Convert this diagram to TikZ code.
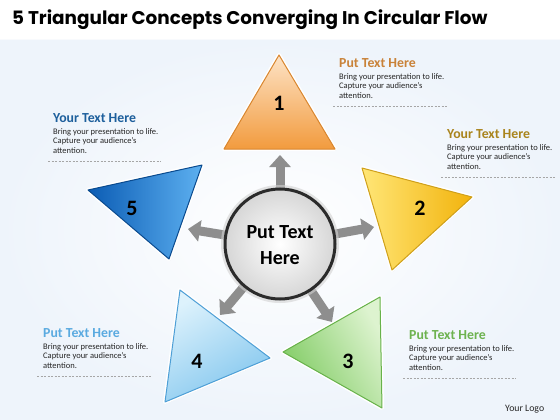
\documentclass[tikz,border=0pt]{standalone}
\usepackage{fontspec}
\setmainfont{Carlito}
\newfontfamily\titlefont{Poppins}
\usetikzlibrary{arrows.meta,shadows}
\definecolor{bgblue}{HTML}{EEF4FB}
\definecolor{orL}{HTML}{FDE3C6}
\definecolor{orD}{HTML}{F29B3E}
\definecolor{orB}{HTML}{D9862E}
\definecolor{yeL}{HTML}{FFE677}
\definecolor{yeD}{HTML}{F2B30C}
\definecolor{yeB}{HTML}{CFA01A}
\definecolor{grL}{HTML}{DDF3CF}
\definecolor{grD}{HTML}{7FCB62}
\definecolor{grB}{HTML}{67B24A}
\definecolor{lbL}{HTML}{DDF2FC}
\definecolor{lbD}{HTML}{82C6EE}
\definecolor{lbB}{HTML}{4E9FD6}
\definecolor{blL}{HTML}{5DB0F0}
\definecolor{blD}{HTML}{0B5CB4}
\definecolor{blB}{HTML}{0A4A8E}
\definecolor{hOr}{HTML}{C98238}
\definecolor{hYe}{HTML}{A9841C}
\definecolor{hBl}{HTML}{1D5F9C}
\definecolor{hLb}{HTML}{5AAAE0}
\definecolor{hGr}{HTML}{6DB24F}
\definecolor{arrg}{HTML}{8E8E8E}
\definecolor{ring}{HTML}{2B2B2B}
\begin{document}
\begin{tikzpicture}[x=1pt,y=-1pt,
  triout/.style={fill=white,draw=white,line width=4pt,line join=round,
    drop shadow={shadow xshift=1pt,shadow yshift=-1.5pt,opacity=0.35}},
  trifill/.style={line width=1pt,line join=round},
  num/.style={font=\bfseries\fontsize{22}{24}\selectfont,inner sep=0pt},
  head/.style={font=\bfseries\fontsize{13.8}{15}\selectfont,anchor=base west,inner sep=0pt},
  body/.style={font=\fontsize{8.5}{9.8}\selectfont,align=left,anchor=north west,inner sep=0pt,text=black!85},
  sep/.style={draw=gray!70,line width=0.6pt,dash pattern=on 2pt off 1.5pt},
  garrow/.style={draw=arrg,line width=9pt,-{Triangle[length=12pt,width=21pt]}}
]
\useasboundingbox (0,0) rectangle (560,420);
% background
\fill[white] (0,0) rectangle (560,420);
\shade[inner color=white,outer color=bgblue] (0,40) rectangle (560,420);
\fill[white,opacity=0.6] (0,0) rectangle (560,40);

% title
\node[anchor=base west,inner sep=0pt,font=\titlefont\bfseries\fontsize{18.4}{21}\selectfont] (title) at (12,25) {5 Triangular Concepts Converging In Circular Flow};

% centre and arrow tips
\coordinate (cc) at (280,244);
\coordinate (t1) at (280,155);
\coordinate (t2) at (374,227);
\coordinate (t3) at (332,322);
\coordinate (t4) at (220,315);
\coordinate (t5) at (188,229);
\foreach \t in {t1,t2,t3,t4,t5} \draw[garrow] (cc) -- (\t);

% centre circle
\fill[gray!35,opacity=0.6] (cc) circle (59);
\shade[inner color=white,outer color=gray!32,draw=ring,line width=3pt] (cc) circle (55);
\node[font=\bfseries\fontsize{20}{26}\selectfont,align=center,inner sep=0pt] (c) at (280,245) {Put Text\\Here};

% triangle 1 (orange)
\path[triout] (279,55) -- (335,149) -- (224,149) -- cycle;
\shade[trifill,top color=orL,bottom color=orD,draw=orB] (279,55) -- (335,149) -- (224,149) -- cycle;
\node[num] (n1) at (279,103) {1};

% triangle 2 (yellow)
\path[triout] (362,168) -- (472,197) -- (392,270) -- cycle;
\shade[trifill,top color=yeL,bottom color=yeD,shading angle=90,draw=yeB] (362,168) -- (472,197) -- (392,270) -- cycle;
\node[num] (n2) at (420,208) {2};

% triangle 3 (green)
\path[triout] (380,297) -- (382,408) -- (283,352) -- cycle;
\shade[trifill,top color=grL,bottom color=grD,shading angle=-60,draw=grB] (380,297) -- (382,408) -- (283,352) -- cycle;
\node[num] (n3) at (348,361) {3};

% triangle 4 (light blue)
\path[triout] (180,290) -- (270,358) -- (165,402) -- cycle;
\shade[trifill,top color=lbL,bottom color=lbD,shading angle=30,draw=lbB] (180,290) -- (270,358) -- (165,402) -- cycle;
\node[num] (n4) at (197,361) {4};

% triangle 5 (blue)
\path[triout] (88,190) -- (202,165) -- (169,259) -- cycle;
\shade[trifill,top color=blL,bottom color=blD,shading angle=-90,draw=blB] (88,190) -- (202,165) -- (169,259) -- cycle;
\node[num] (n5) at (132,208) {5};

% text block 1
\node[head,text=hOr] (h1) at (339,67) {Put Text Here};
\node[body] (b1) at (339,73) {Bring your presentation to life.\\Capture your audience’s\\attention.};
\draw[sep] (333,106) -- (447,106);

% text block 2
\node[head,text=hYe] (h2) at (447,138) {Your Text Here};
\node[body] (b2) at (447,144) {Bring your presentation to life.\\Capture your audience’s\\attention.};
\draw[sep] (441,177) -- (555,177);

% text block 5
\node[head,text=hBl] (h5) at (53,122) {Your Text Here};
\node[body] (b5) at (53,128) {Bring your presentation to life.\\Capture your audience’s\\attention.};
\draw[sep] (48,161) -- (161,161);

% text block 4
\node[head,text=hLb] (h4) at (43,337) {Put Text Here};
\node[body] (b4) at (43,343) {Bring your presentation to life.\\Capture your audience’s\\attention.};
\draw[sep] (37,376) -- (152,376);

% text block 3
\node[head,text=hGr] (h3) at (409,339) {Put Text Here};
\node[body] (b3) at (409,345) {Bring your presentation to life.\\Capture your audience’s\\attention.};
\draw[sep] (403,378) -- (516,378);

\node[anchor=base west,inner sep=0pt,font=\fontsize{9.8}{11}\selectfont,text=black!85] (logo) at (505,411) {Your Logo};
\end{tikzpicture}
\end{document}
